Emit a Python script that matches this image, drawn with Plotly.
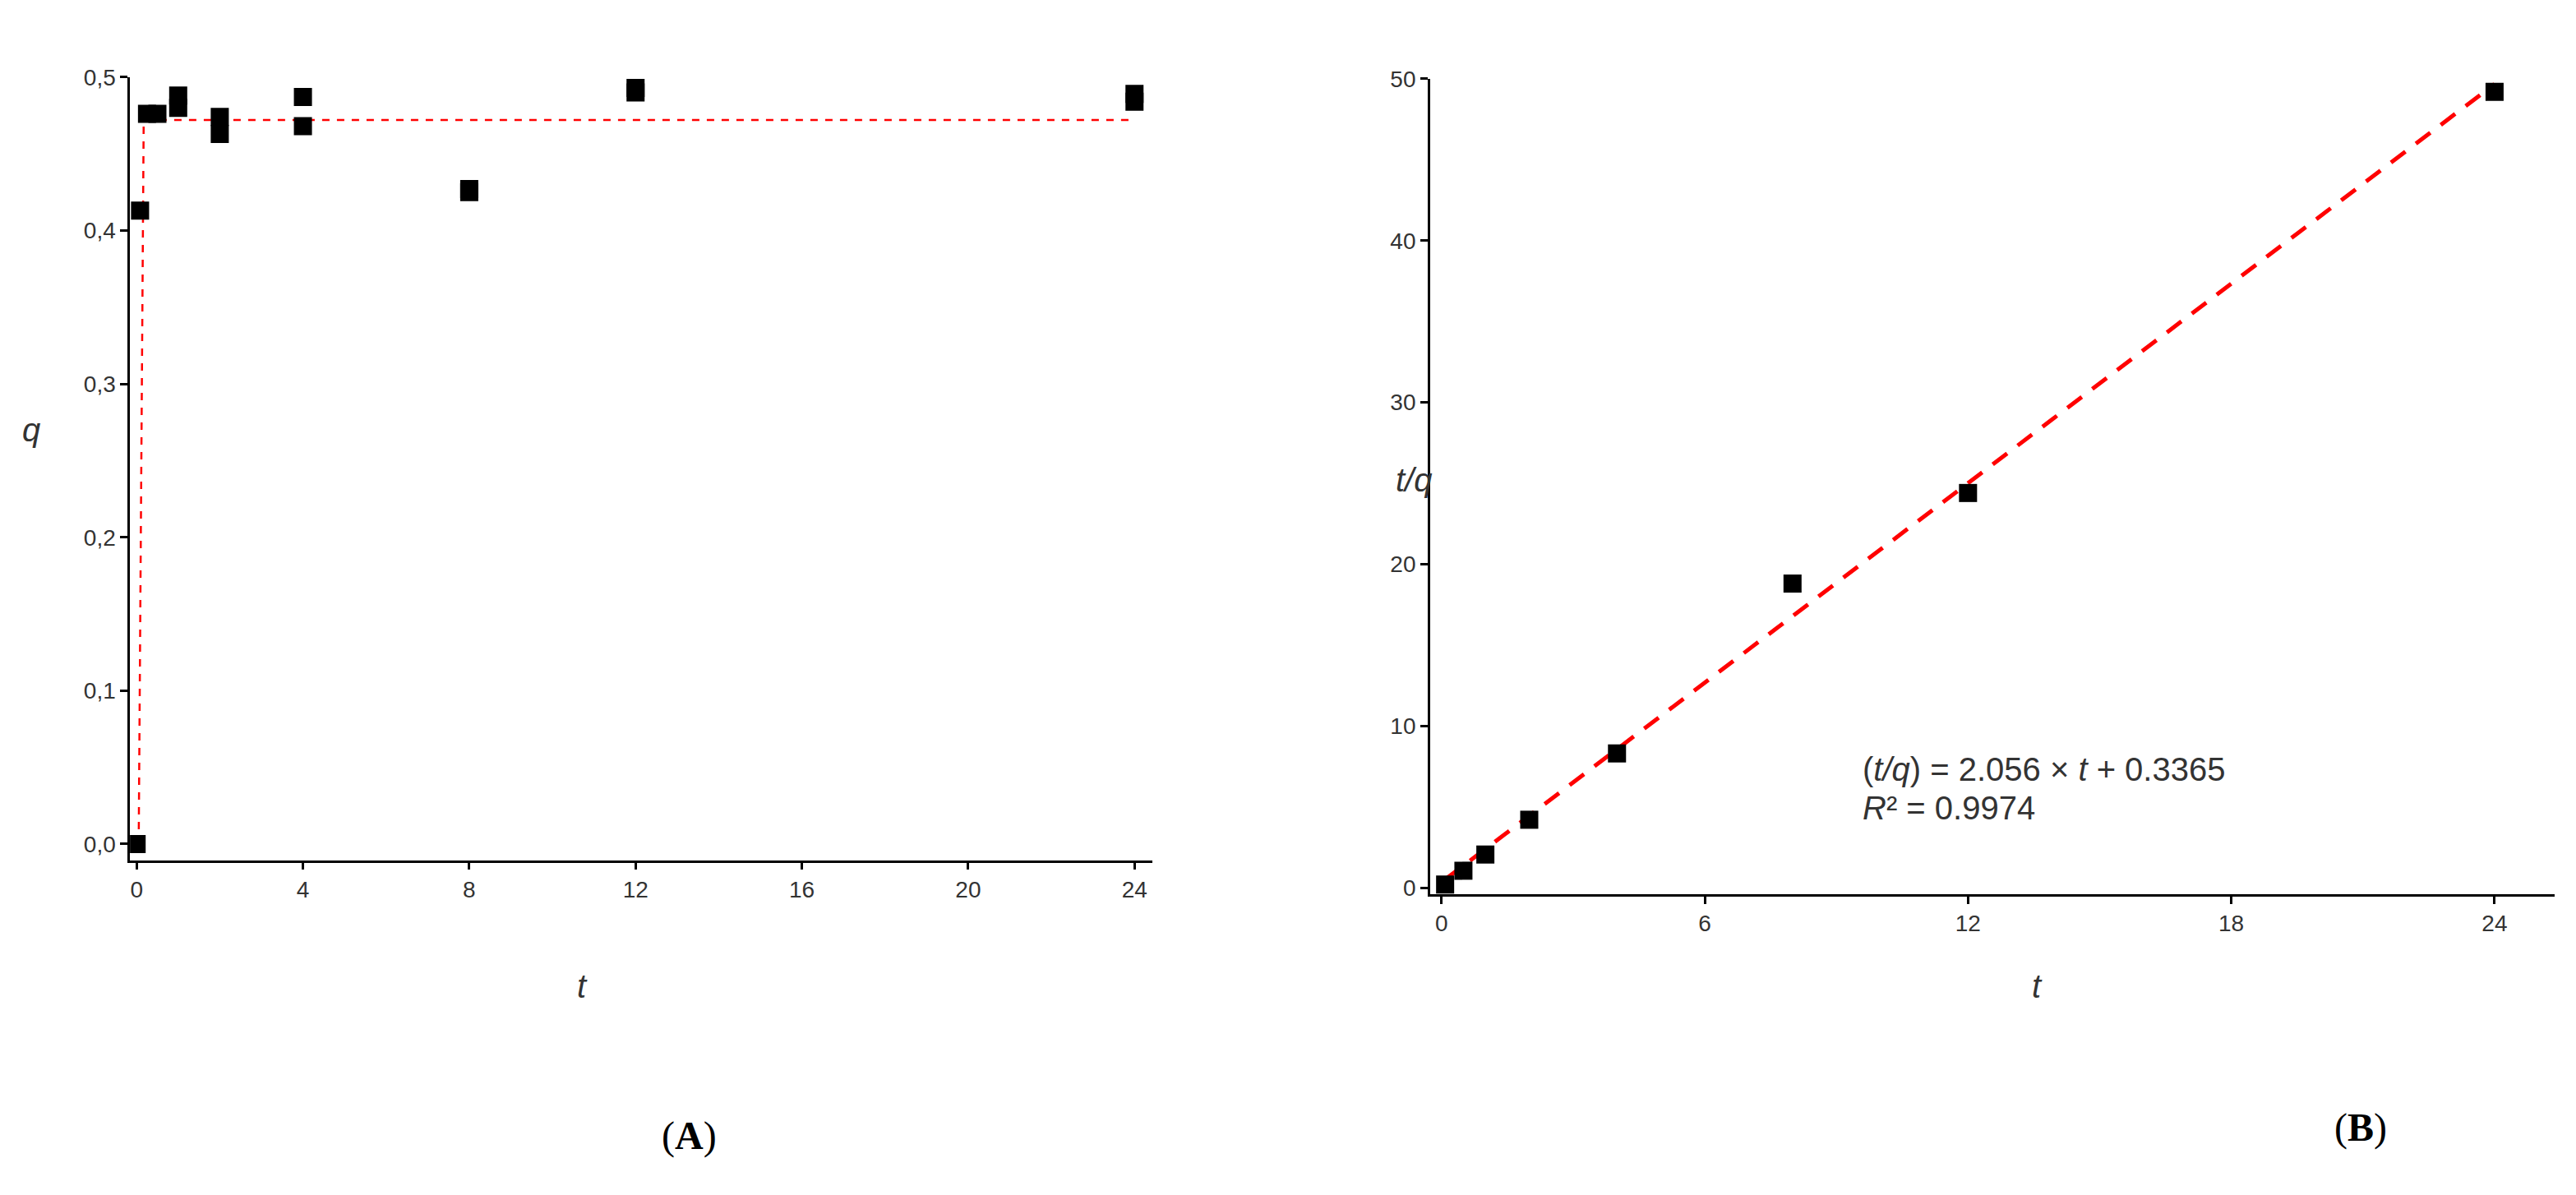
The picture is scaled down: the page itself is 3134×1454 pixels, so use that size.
import plotly.graph_objects as go

# panel A: adsorption kinetics
t_a = [0, 0.083, 0.25, 0.5, 1, 1, 2, 2, 4, 4, 8, 8, 12, 12, 24, 24]
q_a = [0.0, 0.413, 0.476, 0.476, 0.480, 0.488, 0.463, 0.474, 0.468, 0.487,
       0.425, 0.427, 0.490, 0.493, 0.484, 0.489]
fit_t_a = [0.05, 0.17, 24]
fit_q_a = [0.0, 0.472, 0.472]

# panel B: pseudo-second-order linear form
t_b = [0.083, 0.5, 1, 2, 4, 8, 12, 24]
tq_b = [0.2, 1.05, 2.05, 4.2, 8.3, 18.8, 24.4, 49.2]
slope, intercept = 2.056, 0.3365
fit_t_b = [0.083, 24]
fit_tq_b = [slope * x + intercept for x in fit_t_b]

ya_ticks = [0, 0.1, 0.2, 0.3, 0.4, 0.5]
ya_text = ["0,0", "0,1", "0,2", "0,3", "0,4", "0,5"]

W, H = 3134, 1454
fig = go.Figure()
mk = dict(symbol="square", size=22, color="black")
fig.add_trace(go.Scatter(x=fit_t_a, y=fit_q_a, mode="lines",
                         line=dict(color="red", width=2.5, dash="dash"),
                         xaxis="x", yaxis="y"))
fig.add_trace(go.Scatter(x=t_a, y=q_a, mode="markers", marker=mk,
                         xaxis="x", yaxis="y"))
fig.add_trace(go.Scatter(x=fit_t_b, y=fit_tq_b, mode="lines",
                         line=dict(color="red", width=5, dash="22px,16px"),
                         xaxis="x2", yaxis="y2"))
fig.add_trace(go.Scatter(x=t_b, y=tq_b, mode="markers", marker=mk,
                         xaxis="x2", yaxis="y2"))

ax = dict(showline=True, linecolor="black", linewidth=2.5, ticks="outside",
          ticklen=9, tickwidth=2.5, tickcolor="black", showgrid=False,
          zeroline=False, tickfont=dict(family="Liberation Sans", size=28, color="#333"))
tfont = dict(family="Liberation Sans", size=40, color="#333")

fig.update_layout(
    width=W, height=H, showlegend=False, plot_bgcolor="white", paper_bgcolor="white",
    margin=dict(l=0, r=0, t=0, b=0),
    xaxis=dict(ax, domain=[0.0479, 0.4448], range=[-0.16, 24.43],
               tickvals=[0, 4, 8, 12, 16, 20, 24], anchor="y"),
    yaxis=dict(ax, domain=[0.2847, 0.9505], range=[-0.0105, 0.5],
               tickvals=ya_ticks, ticktext=ya_text, anchor="x"),
    xaxis2=dict(ax, domain=[0.5526, 0.989], range=[-0.26, 25.36],
                tickvals=[0, 6, 12, 18, 24], anchor="y2"),
    yaxis2=dict(ax, domain=[0.2558, 0.949], range=[-0.4, 50],
                tickvals=[0, 10, 20, 30, 40, 50], anchor="x2"),
)

ann = [
    dict(x=30 / W, y=1 - 484 / H, text="<i>q</i>", font=tfont),
    dict(x=700 / W, y=1 - 1220 / H, text="<i>t</i>", font=tfont),
    dict(x=1712 / W, y=1 - 570 / H, text="<i>t/q</i>", font=tfont),
    dict(x=2470 / W, y=1 - 1220 / H, text="<i>t</i>", font=tfont),
    dict(x=2256 / W, y=1 - 928 / H, text="(<i>t/q</i>) = 2.056 × <i>t</i> + 0.3365",
         font=tfont, xanchor="left"),
    dict(x=2256 / W, y=1 - 1000 / H, text="<i>R</i>² = 0.9974", font=tfont, xanchor="left"),
    dict(x=830 / W, y=1 - 1410 / H, text="(<b>A</b>)",
         font=dict(family="Liberation Serif", size=48, color="black")),
    dict(x=2864 / W, y=1 - 1400 / H, text="(<b>B</b>)",
         font=dict(family="Liberation Serif", size=48, color="black")),
]
for a in ann:
    a.setdefault("xanchor", "center")
    fig.add_annotation(xref="paper", yref="paper", showarrow=False, **a)

fig.write_html("out.html")
